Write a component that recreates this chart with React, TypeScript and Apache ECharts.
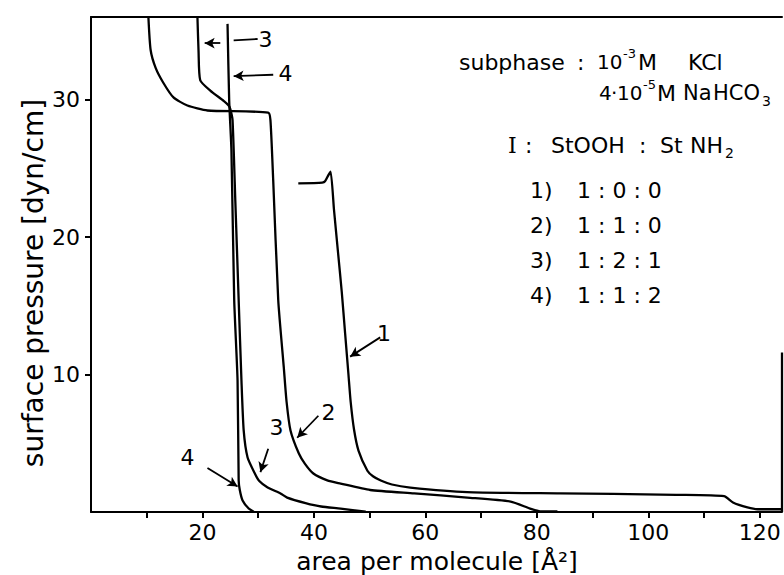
import React, { useEffect, useRef } from "react";
import * as echarts from "echarts";

// Surface pressure isotherms: [area per molecule (Å²), surface pressure (dyn/cm)]
const curve1: [number, number][] = [
  [124.0, 0.2], [119.6, 0.2], [117.8, 0.33], [115.2, 0.69], [113.6, 1.15],
  [105.0, 1.25], [93.7, 1.32], [84.2, 1.36], [67.5, 1.45], [57.3, 1.78],
  [54.0, 2.0], [52.0, 2.29], [50.6, 2.6], [49.6, 3.0], [48.0, 4.47], [47.2, 6.0],
  [46.6, 8.0], [46.2, 10.0], [45.6, 13.0], [45.0, 16.0], [44.3, 19.0],
  [43.6, 22.0], [43.0, 24.76], [42.6, 24.5], [42.0, 24.05], [41.5, 23.96],
  [37.2, 23.9],
];
const curve2: [number, number][] = [
  [83.7, 0.05], [80.6, 0.05], [78.8, 0.25], [75.3, 0.76], [67.5, 1.05],
  [58.0, 1.35], [50.1, 1.6], [44.8, 2.07], [42.4, 2.3], [39.9, 2.8],
  [38.4, 3.5], [37.3, 4.25], [35.8, 5.93], [35.1, 8.0], [34.6, 10.5],
  [33.6, 15.4], [32.7, 24.1], [32.2, 28.5], [31.8, 29.05], [20.9, 29.2],
  [17.3, 29.56], [14.8, 30.15], [13.0, 31.2], [11.6, 32.3], [10.7, 33.6],
  [10.3, 36.0],
];
const curve3: [number, number][] = [
  [49.3, 0.02], [44.8, 0.25], [41.3, 0.4], [38.5, 0.65], [35.2, 1.05],
  [34.0, 1.35], [31.7, 1.78], [30.2, 2.25], [29.4, 2.8], [28.1, 3.96],
  [27.4, 5.93], [27.0, 9.56], [26.5, 15.4], [25.9, 22.6], [25.4, 28.5],
  [25.0, 29.3], [24.7, 29.56], [23.8, 29.9], [21.4, 30.65], [19.6, 31.4],
  [19.3, 33.5], [19.1, 36.0],
];
const curve4: [number, number][] = [
  [29.2, 0.02], [28.3, 0.25], [27.2, 0.84], [26.7, 1.6], [26.5, 2.29],
  [26.3, 9.56], [25.7, 15.4], [25.2, 26.3], [24.8, 29.9], [24.5, 35.5],
];
const rightEdge: [number, number][] = [[124.0, 0], [124.0, 11.6]];

const xTickValues = [10, 20, 30, 40, 50, 60, 70, 80, 90, 100, 110, 120];
const xLabelValues = [20, 40, 60, 80, 100, 120];
const yTickValues = [10, 20, 30];
const yLabelValues = [10, 20, 30];

// Annotation arrows (data coordinates) and their number labels
const arrows = [
  { from: [51.9, 12.7], to: [46.5, 11.3], head: true },
  { from: [40.8, 7.0], to: [37.0, 5.4], head: true },
  { from: [31.8, 4.6], to: [30.4, 2.9], head: true },
  { from: [20.9, 3.2], to: [26.3, 1.85], head: true },
  { from: [23.2, 34.1], to: [20.4, 34.1], head: true },
  { from: [25.6, 34.3], to: [29.9, 34.4], head: false },
  { from: [32.7, 31.8], to: [25.6, 31.7], head: true },
];
const arrowLabels = [
  { text: "1", at: [52.6, 13.0] },
  { text: "2", at: [42.6, 7.24] },
  { text: "3", at: [33.3, 6.15] },
  { text: "4", at: [17.3, 3.96] },
  { text: "3", at: [31.3, 34.36] },
  { text: "4", at: [34.9, 31.9] },
];

const ratioRows = ["1)", "2)", "3)", "4)"];
const ratioValues = ["1 : 0 : 0", "1 : 1 : 0", "1 : 2 : 1", "1 : 1 : 2"];

const FONT = '"DejaVu Sans", sans-serif';

function txt(text: string, x: number, y: number, size = 22, family = FONT, align = "left") {
  return {
    type: "text",
    x,
    y,
    silent: true,
    style: {
      text,
      fill: "#000",
      font: `${size}px ${family}`,
      align,
      textAlign: align,
      verticalAlign: "middle",
      textVerticalAlign: "middle",
    },
  };
}

export default function App() {
  const ref = useRef<HTMLDivElement>(null);
  useEffect(() => {
    const chart = echarts.init(ref.current!, null, { renderer: "svg" });
    const lineStyle = { color: "#000", width: 2.3 };
    const mkLine = (name: string, data: [number, number][]) => ({
      name,
      type: "line",
      data,
      showSymbol: false,
      symbol: "none",
      smooth: 0.2,
      lineStyle,
      silent: true,
    });

    const graphic: any[] = [
      // legend block
      txt("subphase", 459, 62),
      txt(":", 577, 62),
      txt("10", 597, 62, 20),
      txt("-3", 623, 53, 13),
      txt("M", 638, 62),
      txt("KCl", 688, 62),
      txt("4", 599, 93, 20),
      txt("·", 611, 93, 20),
      txt("10", 617, 93, 20),
      txt("-5", 643, 84, 13),
      txt("M", 657, 93),
      txt("Na", 683, 93, 21),
      txt("HCO", 713, 93, 21),
      txt("3", 762, 101, 14),
      txt("I", 508, 145, 22, '"DejaVu Serif", serif'),
      txt(":", 525, 145),
      txt("StOOH", 551, 145),
      txt(":", 639, 145),
      txt("St", 660, 145),
      txt("NH", 690, 145),
      txt("2", 725, 153, 14),
      ...ratioRows.map((r, i) => txt(r, 530, 190 + i * 35)),
      ...ratioValues.map((r, i) => txt(r, 577, 190 + i * 35)),
      // axis titles
      {
        type: "text",
        x: 33,
        y: 283,
        rotation: Math.PI / 2,
        silent: true,
        style: {
          text: "surface pressure [dyn/cm]",
          fill: "#000",
          font: `28px ${FONT}`,
          align: "center",
          textAlign: "center",
          verticalAlign: "middle",
          textVerticalAlign: "middle",
        },
      },
      txt("area per molecule [Å²]", 437, 561, 25, FONT, "center"),
    ];

    chart.setOption({
      animation: false,
      backgroundColor: "#fff",
      grid: { left: 91, right: 2, top: 17, bottom: 63, containLabel: false },
      xAxis: [
        {
          type: "value",
          min: 0,
          max: 124,
          interval: 10,
          position: "bottom",
          axisLine: { show: true, lineStyle: { color: "#000", width: 2 } },
          axisTick: {
            show: true,
            customValues: xTickValues,
            length: 6,
            lineStyle: { color: "#000", width: 2 },
          },
          axisLabel: {
            customValues: xLabelValues,
            color: "#000",
            fontSize: 22,
            fontFamily: FONT,
            margin: 9,
            formatter: (v: number) => (xLabelValues.includes(v) ? String(v) : ""),
          },
          splitLine: { show: false },
        },
        {
          type: "value",
          min: 0,
          max: 124,
          position: "top",
          axisLine: { show: true, onZero: false, lineStyle: { color: "#000", width: 2 } },
          axisTick: { show: false },
          axisLabel: { show: false },
          splitLine: { show: false },
        },
      ],
      yAxis: {
        type: "value",
        min: 0,
        max: 36,
        interval: 10,
        axisLine: { show: true, lineStyle: { color: "#000", width: 2 } },
        axisTick: {
          show: true,
          customValues: yTickValues,
          length: 6,
          lineStyle: { color: "#000", width: 2 },
        },
        axisLabel: {
          customValues: yLabelValues,
          color: "#000",
          fontSize: 22,
          fontFamily: FONT,
          margin: 11,
          formatter: (v: number) => (yLabelValues.includes(v) ? String(v) : ""),
        },
        splitLine: { show: false },
      },
      series: [
        mkLine("1", curve1),
        mkLine("2", curve2),
        mkLine("3", curve3),
        mkLine("4", curve4),
        {
          ...mkLine("edge", rightEdge),
          smooth: false,
          markLine: {
            silent: true,
            symbol: ["none", "arrow"],
            symbolSize: [8, 10],
            lineStyle: { color: "#000", width: 1.8, type: "solid" },
            label: { show: false },
            emphasis: { disabled: true },
            data: arrows.map((a) => [
              { coord: a.from, symbol: "none" },
              { coord: a.to, symbol: a.head ? "arrow" : "none" },
            ]),
          },
        },
        {
          name: "labels",
          type: "scatter",
          symbolSize: 0,
          silent: true,
          itemStyle: { opacity: 1, color: "#000" },
          data: arrowLabels.map((l) => ({ value: l.at, name: l.text })),
          label: {
            show: true,
            position: "inside",
            formatter: "{b}",
            color: "#000",
            opacity: 1,
            fontSize: 22,
            fontFamily: FONT,
          },
        },
      ],
      graphic,
    });
    return () => chart.dispose();
  }, []);
  return (
    <div
      ref={ref}
      style={{ position: "fixed", left: 0, top: 0, width: 784, height: 575, background: "#fff" }}
    />
  );
}
